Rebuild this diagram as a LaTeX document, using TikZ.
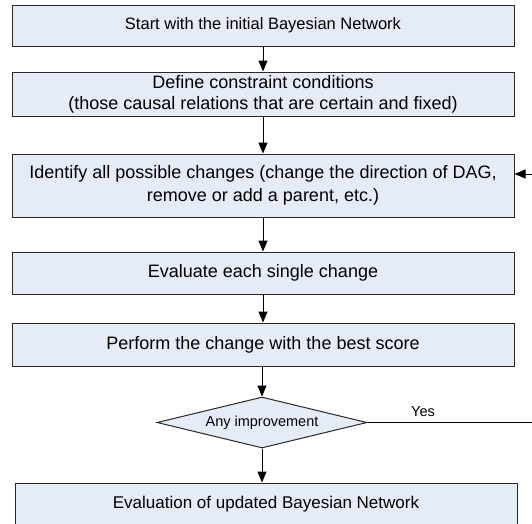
\documentclass[tikz,border=0pt]{standalone}
\usepackage{fontspec}
\setmainfont{Liberation Sans}
\usetikzlibrary{arrows.meta, shapes.geometric, calc}
\definecolor{boxfill}{RGB}{230,236,247}
\definecolor{boxline}{RGB}{40,40,40}
\begin{document}
\begin{tikzpicture}[x=1pt,y=-1pt,
		>={Triangle[length=11pt,width=9pt]},
		stepbox/.style={draw=boxline, fill=boxfill, line width=1pt, minimum width=502pt, inner sep=0pt, align=center, font=\fontsize{18}{21}\selectfont},
		decision/.style={diamond, draw=boxline, fill=boxfill, line width=1pt, aspect=4.1, minimum width=210pt, minimum height=51pt, inner sep=0pt, font=\fontsize{14.5}{16}\selectfont},
		flow/.style={->, line width=1pt}]
		\useasboundingbox (0,0) rectangle (532,523);
		\clip (0,0) rectangle (532,523);
		
		% Kaesten
		\node[stepbox, minimum height=41pt, font=\fontsize{16.5}{21}\selectfont] (start) at (263,25.5) {Start with the initial Bayesian Network};
		\node[stepbox, minimum height=44pt] (define) at (263,94) {Define constraint conditions\\(those causal relations that are certain and fixed)};
		\node[stepbox, minimum height=63pt, font=\fontsize{18}{22.5}\selectfont] (identify) at (263,185.5) {Identify all possible changes (change the direction of DAG,\\remove or add a parent, etc.)};
		\node[stepbox, minimum height=42pt] (evaluate) at (263,273) {Evaluate each single change};
		\node[stepbox, minimum height=43pt] (perform) at (263,344.5) {Perform the change with the best score};
		\node[decision] (improve) at (262,422.5) {Any improvement};
		\node[stepbox, minimum height=43pt, font=\fontsize{17}{21}\selectfont] (updated) at (266,504.5) {Evaluation of updated Bayesian Network};
		
		% Pfeile
		\draw[flow] (start) -- (define);
		\draw[flow] (define) -- (identify);
		\draw[flow] (identify) -- (evaluate);
		\draw[flow] (evaluate) -- (perform);
		\draw[flow] (improve.north |- perform.south) -- (improve.north);
		\draw[flow] (improve.south) -- (improve.south |- updated.north);
		
		% Schleife
		\coordinate (loop) at (550,174);
		\draw[flow] (improve.east) -- (improve.east -| loop) -- (loop) -- (loop -| identify.east);
		\node[font=\fontsize{14.5}{16}\selectfont] (yes) at (423,412) {Yes};
	\end{tikzpicture}
\end{document}
